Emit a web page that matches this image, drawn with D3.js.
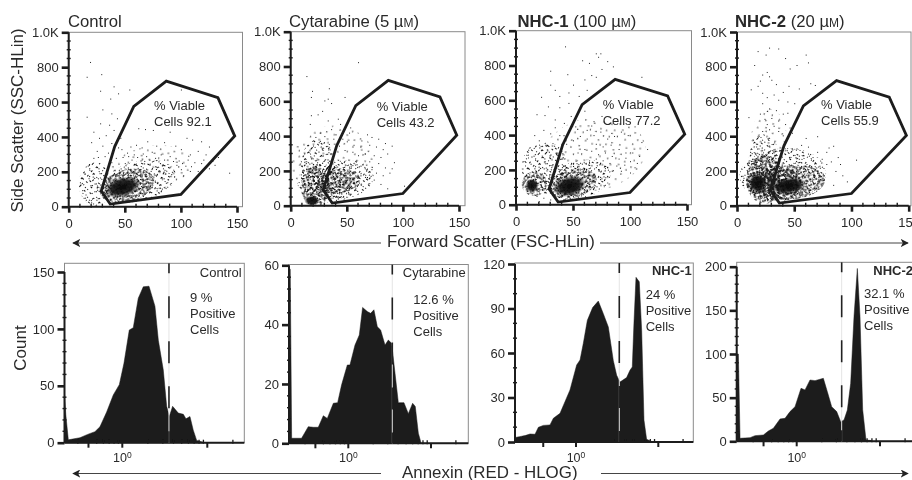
<!DOCTYPE html>
<html>
<head>
<meta charset="utf-8">
<script src="https://cdn.jsdelivr.net/npm/d3@7"></script>
<style>
  html, body { margin: 0; padding: 0; background: #fff; overflow: hidden; }
  text { font-family: "Liberation Sans", Arial, sans-serif; fill: #2a2a2a; }
</style>
</head>
<body>
<div id="chart"></div>
<script>
// gate drawn on all four scatter panels [FSC, SSC]
const gate = [[87,720],[133,625],[148,405],[100,70],[37,15],[29,90],[41,345],[58,575]];

const fscTicks = [0, 50, 100, 150];
const sscTicks = [0, 200, 400, 600, 800, 1000];

// individual events [FSC, SSC]
const controlPoints = [[19,830],[16,745],[29,760],[28,665],[40,690],[54,672],[37,620],[44,650],[100,672],[16,516],[30,558],[38,535],[43,507],[28,478],[22,430],[36,470],[27,395],[33,410],[40,440],[46,395],[20,370],[30,350],[38,365],[44,340],[25,320],[35,310],[62,450],[68,445],[75,440],[90,430],[105,395],[110,385],[118,375],[125,345],[133,285],[143,195],[130,240],[122,300],[115,320],[108,300],[100,330],[95,350],[85,370],[78,350],[70,375],[65,340],[60,355],[55,345],[52,310],[58,300],[66,305],[74,315],[82,300],[90,290],[98,265],[106,270],[112,255],[118,250],[125,220],[104,235],[96,240],[88,245],[80,260],[72,270],[64,265],[56,270],[48,285],[84,220],[92,200],[100,215],[108,205],[78,230],[86,190],[94,175],[102,180],[72,240],[60,240],[66,225],[50,250],[42,280],[38,255],[32,290],[26,285],[22,280],[18,240],[14,190],[12,165],[10,140],[12,95],[15,70],[18,40],[20,25],[22,50],[25,110],[47,330],[53,290],[61,285],[69,290],[77,280],[85,270],[93,262],[101,250],[109,232],[115,205],[120,270],[128,262]];

const cytarabinePoints = [[60,825],[14,745],[19,660],[18,625],[34,675],[33,615],[30,605],[36,590],[48,625],[18,520],[17,470],[33,490],[44,470],[53,450],[36,440],[26,420],[30,400],[40,410],[46,385],[22,395],[25,365],[34,355],[43,345],[50,370],[56,350],[62,340],[68,410],[72,395],[78,385],[84,360],[70,350],[76,340],[82,325],[90,345],[86,300],[92,250],[80,280],[74,290],[66,300],[60,290],[55,310],[48,320],[90,215],[84,220],[88,190],[82,175],[72,210],[76,190],[68,165],[74,150],[80,125],[101,115],[86,100],[66,300],[58,260],[64,240],[70,255],[78,245],[52,420],[12,300],[10,230],[9,180],[11,140],[42,500],[28,545],[24,525],[63,375],[38,385]];

const nhc1Points = [[43,910],[58,830],[64,815],[70,870],[74,870],[72,850],[80,825],[85,795],[75,780],[30,770],[45,750],[66,745],[70,735],[60,720],[50,690],[30,690],[34,660],[38,625],[46,645],[55,625],[62,660],[100,695],[110,735],[22,620],[28,565],[38,560],[46,585],[18,520],[25,515],[34,490],[42,470],[48,510],[52,450],[60,540],[68,480],[75,510],[82,470],[98,400],[104,450],[110,360],[115,320],[92,420],[86,395],[80,380],[74,420],[68,400],[62,380],[56,395],[50,370],[44,350],[70,350],[76,335],[83,345],[90,320],[96,300],[102,300],[108,280],[100,250],[104,215],[95,230],[90,265],[84,280],[78,300],[72,290],[66,310],[60,320],[54,300],[88,225],[82,240],[76,255],[70,265],[64,245],[92,195],[100,185],[84,195],[78,210],[72,205],[24,430],[30,410],[16,400],[20,370],[12,330],[26,340],[34,445],[38,400],[62,430],[66,455],[106,240],[96,270],[24,40],[30,30],[18,50],[20,20],[26,70],[34,60],[28,95]];

const nhc2Points = [[28,910],[36,905],[18,890],[25,870],[42,850],[46,790],[52,810],[60,870],[62,825],[15,810],[26,770],[28,745],[30,725],[22,755],[20,720],[34,700],[18,690],[45,690],[40,655],[54,675],[64,705],[68,695],[12,670],[22,650],[26,625],[32,640],[36,610],[44,600],[50,590],[22,590],[28,560],[34,550],[40,530],[44,535],[20,530],[24,500],[30,505],[36,490],[10,510],[42,470],[46,450],[26,470],[28,440],[32,460],[36,430],[22,430],[18,400],[14,380],[40,405],[48,420],[60,390],[70,400],[80,335],[84,345],[78,310],[70,310],[62,340],[56,350],[52,330],[48,330],[66,280],[74,270],[82,255],[90,240],[104,265],[86,200],[92,175],[96,140],[84,120],[78,240],[72,230],[62,300],[58,290],[54,270],[76,175],[72,145],[88,280],[68,250]];

// density of the crowded regions [FSC, SSC, FSC radius, SSC radius, tilt, level]
const controlClouds = [[72,215,38,130,-12,0],[24,130,15,125,0,1],[62,145,34,115,-15,1],[52,120,25,92,-15,2],[48,112,17,58,-15,3]];
const cytarabineClouds = [[38,240,38,220,-5,0],[24,200,16,180,0,1],[30,130,24,115,0,1],[22,110,13,115,0,2],[46,150,28,110,-8,1],[43,140,19,70,-8,2],[19,30,7,30,0,3]];
const nhc1Clouds = [[68,290,46,210,-10,0],[25,215,20,150,0,1],[16,120,11,70,0,2],[14,110,6,42,0,3],[54,140,30,110,-15,1],[50,122,21,82,-15,2],[47,107,15,60,-15,3]];
const nhc2Clouds = [[28,360,16,200,0,0],[40,180,38,150,-4,1],[24,240,14,170,0,1],[24,150,16,140,0,2],[32,130,24,100,0,2],[47,135,30,100,-5,2],[45,115,16,50,-8,3],[18,130,8,60,0,3]];

// annexin histograms: log10(RED-HLOG) and count
const controlLog = [-0.68,-0.665,-0.635,-0.498,-0.408,-0.322,-0.263,-0.184,-0.106,-0.035,0.02,0.082,0.129,0.188,0.247,0.314,0.384,0.424,0.482,0.522,0.553,0.592,0.659,0.718,0.749,0.796,0.835,0.875,0.953];
const controlCount = [43,25,2.5,4.4,7.3,9.7,14,27,42,51,70,99,101,127,137,137.5,120,90,64,32,23,32,26,25,21,23,11,2,0.3];
const cytarabineLog = [-0.718,-0.702,-0.685,-0.565,-0.484,-0.423,-0.363,-0.302,-0.254,-0.181,-0.129,-0.081,-0.012,0.02,0.081,0.133,0.173,0.23,0.27,0.31,0.351,0.391,0.444,0.484,0.524,0.565,0.605,0.673,0.726,0.778,0.81,0.847,0.879];
const cytarabineCount = [58.7,58.7,1.7,1.7,5.6,5.4,5.4,9.3,8.4,13.5,13.7,19.7,26.4,26.4,33.1,36.5,45.8,44.4,43.8,45,39.3,38.2,33.1,34.8,33.7,23.6,13.7,13.7,10,13.5,12.4,3.4,0.2];
const nhc1Log = [-0.741,-0.688,-0.619,-0.559,-0.498,-0.457,-0.397,-0.316,-0.275,-0.194,-0.134,-0.073,0.008,0.049,0.089,0.138,0.202,0.271,0.332,0.393,0.453,0.494,0.534,0.615,0.656,0.684,0.704,0.729,0.769,0.798,0.826,0.858,0.919];
const nhc1Count = [3,3.6,4.3,5.4,5.2,9.9,11.2,11.5,16,19.3,27.2,35.1,51.9,55.3,66.5,82,90.6,95,86.5,77.5,55,45,40.4,43.4,48.4,50.6,80,111,108,75,14.8,1.8,0.4];
const nhc2Log = [-0.72,-0.7,-0.68,-0.56,-0.5,-0.4,-0.34,-0.28,-0.2,-0.14,-0.08,-0.02,0.052,0.1,0.16,0.22,0.32,0.368,0.42,0.48,0.528,0.568,0.608,0.648,0.688,0.728,0.76,0.792,0.832,0.9];
const nhc2Count = [100,100,3.4,4.2,6.5,7.2,11.8,14.9,25.6,26.3,34,39.7,60.7,58.8,70.2,69.5,72.1,56.8,39.7,34,22.5,24.4,35.8,66.4,143,198,143,36,1.5,0.8];

const W = 912, H = 480;

// irregular stipple tile for the crowded scatter regions
const stippleTile = [[2,3],[9,1],[16,4],[24,2],[28,8],[5,9],[12,8],[20,10],[26,14],[1,15],[8,14],[15,13],[22,17],[29,20],[4,20],[11,19],[18,21],[25,24],[7,25],[14,26],[2,27],[20,28],[10,4],[17,16],[27,28],[6,17]];

const svg = d3.select("#chart").append("svg").attr("width", W).attr("height", H);
const defs = svg.append("defs");

const soft = defs.append("filter").attr("id", "soft").attr("x", 0).attr("y", 0).attr("width", 1).attr("height", 1)
    .attr("filterUnits", "objectBoundingBox");
soft.append("feGaussianBlur").attr("stdDeviation", 0.4);

// flips of the tile give the denser stipple levels
const flips = [
    d => d,
    d => [d[1], d[0]],
    d => [29 - d[0], d[1]],
    d => [d[0], 29 - d[1]],
    d => [29 - d[1], d[0]],
    d => [d[1], 29 - d[0]],
    d => [29 - d[0], 29 - d[1]],
    d => [29 - d[1], 29 - d[0]]
];
[["rotate(17) scale(1.15)", 1, 1.0], ["rotate(41)", 4, 1.0], ["rotate(73) scale(0.8)", 8, 1.25]].forEach((s, i) => {
    let p = defs.append("pattern").attr("id", "stipple" + i)
        .attr("patternUnits", "userSpaceOnUse").attr("width", 30).attr("height", 30)
        .attr("patternTransform", s[0]);
    let dots = flips.slice(0, s[1]).flatMap(f => stippleTile.map(f));
    p.selectAll("rect").data(dots).join("rect")
        .attr("x", d => d[0]).attr("y", d => d[1])
        .attr("width", s[2]).attr("height", s[2])
        .attr("fill", "#111");
});
let core = defs.append("radialGradient").attr("id", "stipple3");
core.append("stop").attr("offset", "0%").attr("stop-color", "#0a0a0a");
core.append("stop").attr("offset", "60%").attr("stop-color", "#111").attr("stop-opacity", 0.9);
core.append("stop").attr("offset", "100%").attr("stop-color", "#111").attr("stop-opacity", 0);

const root = svg.append("g").attr("filter", "url(#soft)");
root.append("rect").attr("width", W).attr("height", H).attr("fill", "#fff");

const scatterPanels = [
    { bold: "", title: "Control", dose: "", titleX: 68, x0: 68.7, x150: 237, right: 242.5, y0: 206.7, y1k: 32.3, points: controlPoints, clouds: controlClouds, viable: "92.1", vx: 154, vy: 110 },
    { bold: "", title: "Cytarabine (5 ", dose: "µ", titleX: 289, x0: 290.7, x150: 459, right: 465, y0: 205.7, y1k: 31.7, points: cytarabinePoints, clouds: cytarabineClouds, viable: "43.2", vx: 376.7, vy: 110.5 },
    { bold: "NHC-1", title: " (100 ", dose: "µ", titleX: 517.5, x0: 516, x150: 687, right: 691.5, y0: 204.7, y1k: 30.7, points: nhc1Points, clouds: nhc1Clouds, viable: "77.2", vx: 602.7, vy: 108.5 },
    { bold: "NHC-2", title: " (20 ", dose: "µ", titleX: 735, x0: 737, x150: 908.7, right: 911, y0: 205.7, y1k: 32, points: nhc2Points, clouds: nhc2Clouds, viable: "55.9", vx: 821, vy: 109 }
];

scatterPanels.forEach((p, i) => {
    const g = root.append("g");
    const x = d3.scaleLinear().domain([0, 150]).range([p.x0, p.x150]);
    const y = d3.scaleLinear().domain([0, 1000]).range([p.y0, p.y1k]);

    const clipId = "scatterClip" + i;
    defs.append("clipPath").attr("id", clipId).append("rect")
        .attr("x", p.x0).attr("y", p.y1k).attr("width", p.right - p.x0).attr("height", p.y0 - p.y1k);

    const marks = g.append("g").attr("clip-path", `url(#${clipId})`);
    marks.selectAll("ellipse").data(p.clouds).join("ellipse")
        .attr("cx", d => x(d[0])).attr("cy", d => y(d[1]))
        .attr("rx", d => x(d[2]) - x(0)).attr("ry", d => y(0) - y(d[3]))
        .attr("transform", d => `rotate(${d[4]} ${x(d[0])} ${y(d[1])})`)
        .attr("fill", d => `url(#stipple${d[5]})`);
    marks.selectAll("rect").data(p.points).join("rect")
        .attr("x", d => x(d[0])).attr("y", d => y(d[1]))
        .attr("width", 1).attr("height", 1).attr("fill", "#222");

    // frame
    g.append("rect").attr("x", p.x0).attr("y", p.y1k)
        .attr("width", p.right - p.x0).attr("height", p.y0 - p.y1k)
        .attr("fill", "none").attr("stroke", "#8a8a8a").attr("stroke-width", 1);

    g.append("path").datum(gate)
        .attr("d", d3.line().x(d => x(d[0])).y(d => y(d[1])).curve(d3.curveLinearClosed))
        .attr("fill", "none").attr("stroke", "#1c1c1c").attr("stroke-width", 2.8).attr("stroke-linejoin", "miter");

    // axes
    const yAxis = g.append("g").attr("transform", `translate(${p.x0},0)`)
        .call(d3.axisLeft(y).tickValues(sscTicks).tickSize(7).tickPadding(3)
            .tickFormat(d => d === 1000 ? "1.0K" : d));
    const xAxis = g.append("g").attr("transform", `translate(0,${p.y0})`)
        .call(d3.axisBottom(x).tickValues(fscTicks).tickSize(6).tickPadding(6));
    [xAxis, yAxis].forEach(a => {
        a.select(".domain").attr("stroke", "#1c1c1c").attr("stroke-width", 2);
        a.selectAll(".tick line").attr("stroke", "#1c1c1c").attr("stroke-width", 2.6);
        a.selectAll("text").attr("font-size", 13).attr("font-family", "Liberation Sans").attr("fill", "#2a2a2a");
    });
    yAxis.select(".domain").attr("d", `M0,${p.y0}V${p.y1k}`);
    xAxis.select(".domain").attr("d", `M${p.x0},0H${p.x150}`);

    // minor ticks every 50 SSC, 10 FSC
    g.append("g").selectAll("line").data(d3.range(50, 1000, 50).filter(v => v % 200)).join("line")
        .attr("x1", p.x0 - 2).attr("x2", p.x0 + 2).attr("y1", d => y(d)).attr("y2", d => y(d))
        .attr("stroke", "#1c1c1c").attr("stroke-width", 1.4);
    g.append("g").selectAll("line").data(d3.range(10, 150, 10).filter(v => v % 50)).join("line")
        .attr("x1", d => x(d)).attr("x2", d => x(d)).attr("y1", p.y0 - 3).attr("y2", p.y0 + 1)
        .attr("stroke", "#1c1c1c").attr("stroke-width", 1.4);

    // title
    const t = g.append("text").attr("x", p.titleX).attr("y", 26.5).attr("font-size", 16.7);
    if (p.bold) t.append("tspan").attr("font-weight", "bold").text(p.bold);
    t.append("tspan").text(p.title);
    if (p.dose) {
        t.append("tspan").text(p.dose);
        t.append("tspan").attr("font-size", 12).text("M");
        t.append("tspan").text(")");
    }

    g.append("text").attr("x", p.vx).attr("y", p.vy).attr("font-size", 13).text("% Viable");
    g.append("text").attr("x", p.vx).attr("y", p.vy + 16).attr("font-size", 13).text("Cells " + p.viable);
});

const histPanels = [
    { label: "Control", bold: false, labelX: 241.7, anchor: "end", pct: "9 %", px: 190, py: 301.7, logs: controlLog, counts: controlCount, max: 150, top: 272, left: 64.5, right: 244.3, x1: 122.3, x10: 207.3, y0: 442.7, frameTop: 263.3, ticks: [0, 50, 100, 150], minor: 10, cut: 0.549, labelY: 276.7 },
    { label: "Cytarabine", bold: false, labelX: 465.7, anchor: "end", pct: "12.6 %", px: 413.3, py: 304, logs: cytarabineLog, counts: cytarabineCount, max: 60, top: 265.3, left: 289, right: 468.3, x1: 348.3, x10: 431, y0: 443.3, frameTop: 264.5, ticks: [0, 20, 40, 60], minor: 4, cut: 0.532, labelY: 277 },
    { label: "NHC-1", bold: true, labelX: 691.7, anchor: "end", pct: "24 %", px: 645.7, py: 299, logs: nhc1Log, counts: nhc1Count, max: 120, top: 264, left: 515, right: 693.3, x1: 576, x10: 658.3, y0: 442, frameTop: 263, ticks: [0, 30, 60, 90, 120], minor: 10, cut: 0.526, labelY: 275 },
    { label: "NHC-2", bold: true, labelX: 873.3, anchor: "start", pct: "32.1 %", px: 864, py: 298.3, logs: nhc2Log, counts: nhc2Count, max: 200, top: 266.7, left: 736.7, right: 916, x1: 796.7, x10: 880, y0: 441.3, frameTop: 262.3, ticks: [0, 50, 100, 150, 200], minor: 10, cut: 0.54, labelY: 275 }
];

const logMinor = [0.3, 0.5, 0.6, 0.7, 0.8, 0.9, 2, 3, 4, 5, 6, 7, 8, 9, 20];
const logMajor = [0.4, 1, 10];

histPanels.forEach(p => {
    const g = root.append("g");
    const x = d3.scaleLog().domain([1, 10]).range([p.x1, p.x10]);
    const y = d3.scaleLinear().domain([0, p.max]).range([p.y0, p.top]);

    g.append("rect").attr("x", p.left).attr("y", p.frameTop)
        .attr("width", p.right - p.left).attr("height", p.y0 - p.frameTop)
        .attr("fill", "none").attr("stroke", "#8a8a8a").attr("stroke-width", 1);

    const series = p.logs.map((l, i) => [l, p.counts[i]]);
    g.append("path").datum(series)
        .attr("d", d3.area().x(d => x(Math.pow(10, d[0]))).y0(y(0)).y1(d => y(d[1])))
        .attr("fill", "#1a1a1a").attr("stroke", "#1a1a1a").attr("stroke-width", 0.5);

    // baseline runs on past the last event
    g.append("line").attr("x1", p.left).attr("x2", Math.min(p.right, W)).attr("y1", p.y0).attr("y2", p.y0)
        .attr("stroke", "#1c1c1c").attr("stroke-width", 2);

    // gate line: pale over the histogram, dashes on top
    const cutX = x(Math.pow(10, p.cut));
    g.append("line").attr("x1", cutX).attr("x2", cutX).attr("y1", p.frameTop).attr("y2", p.y0)
        .attr("stroke", "#e4e4e4").attr("stroke-width", 1);
    g.append("line").attr("x1", cutX).attr("x2", cutX).attr("y1", p.frameTop).attr("y2", p.y0)
        .attr("stroke", "#222").attr("stroke-width", 1.6).attr("stroke-dasharray", "22 23")
        .attr("stroke-dashoffset", 12);

    const yAxis = g.append("g").attr("transform", `translate(${p.left},0)`)
        .call(d3.axisLeft(y).tickValues(p.ticks).tickSize(7).tickPadding(3));
    yAxis.select(".domain").attr("stroke", "#1c1c1c").attr("stroke-width", 2).attr("d", `M0,${p.y0}V${p.top}`);
    yAxis.selectAll(".tick line").attr("stroke", "#1c1c1c").attr("stroke-width", 2.6);
    yAxis.selectAll("text").attr("font-size", 13).attr("font-family", "Liberation Sans").attr("fill", "#2a2a2a");

    g.append("g").selectAll("line").data(d3.range(0, p.max, p.minor).filter(v => !p.ticks.includes(v))).join("line")
        .attr("x1", p.left - 2).attr("x2", p.left + 2).attr("y1", d => y(d)).attr("y2", d => y(d))
        .attr("stroke", "#1c1c1c").attr("stroke-width", 1.4);

    g.append("g").selectAll("line").data(logMinor).join("line")
        .attr("x1", d => x(d)).attr("x2", d => x(d)).attr("y1", p.y0 - 3).attr("y2", p.y0 + 1)
        .attr("stroke", "#1c1c1c").attr("stroke-width", 1.3);
    g.append("g").selectAll("line").data(logMajor).join("line")
        .attr("x1", d => x(d)).attr("x2", d => x(d)).attr("y1", p.y0).attr("y2", p.y0 + 5)
        .attr("stroke", "#1c1c1c").attr("stroke-width", 2);

    const exp = g.append("text").attr("x", x(1)).attr("y", 462).attr("text-anchor", "middle").attr("font-size", 12.5);
    exp.append("tspan").text("10");
    exp.append("tspan").attr("font-size", 8.5).attr("dy", -4).text("0");

    g.append("text").attr("x", p.labelX).attr("y", p.labelY).attr("text-anchor", p.anchor)
        .attr("font-size", 13).attr("font-weight", p.bold ? "bold" : "normal").text(p.label);
    ["", "Positive", "Cells"].forEach((s, i) => {
        g.append("text").attr("x", p.px).attr("y", p.py + i * 16).attr("font-size", 13).text(i ? s : p.pct);
    });
});

// axis titles and the long arrows
defs.append("marker").attr("id", "head").attr("viewBox", "0 0 10 10").attr("refX", 9).attr("refY", 5)
    .attr("markerWidth", 8).attr("markerHeight", 8).attr("markerUnits", "userSpaceOnUse").attr("orient", "auto-start-reverse")
    .append("path").attr("d", "M0,0L10,5L0,10L2.5,5Z").attr("fill", "#222");

[[73, 381, 243], [600, 908, 243], [73, 381, 473.5], [601, 908, 473.5]].forEach((a, i) => {
    root.append("line").attr("x1", a[0]).attr("x2", a[1]).attr("y1", a[2]).attr("y2", a[2])
        .attr("stroke", "#444").attr("stroke-width", 1)
        .attr(i % 2 ? "marker-end" : "marker-start", "url(#head)");
});

root.append("text").attr("x", 387).attr("y", 247).attr("font-size", 16.7).text("Forward Scatter (FSC-HLin)");
root.append("text").attr("x", 402).attr("y", 478).attr("font-size", 16.9).text("Annexin (RED - HLOG)");
root.append("text").attr("transform", "translate(23,120.5) rotate(-90)").attr("text-anchor", "middle")
    .attr("font-size", 17).text("Side Scatter (SSC-HLin)");
root.append("text").attr("transform", "translate(26,348) rotate(-90)").attr("text-anchor", "middle")
    .attr("font-size", 17).text("Count");
</script>
</body>
</html>
